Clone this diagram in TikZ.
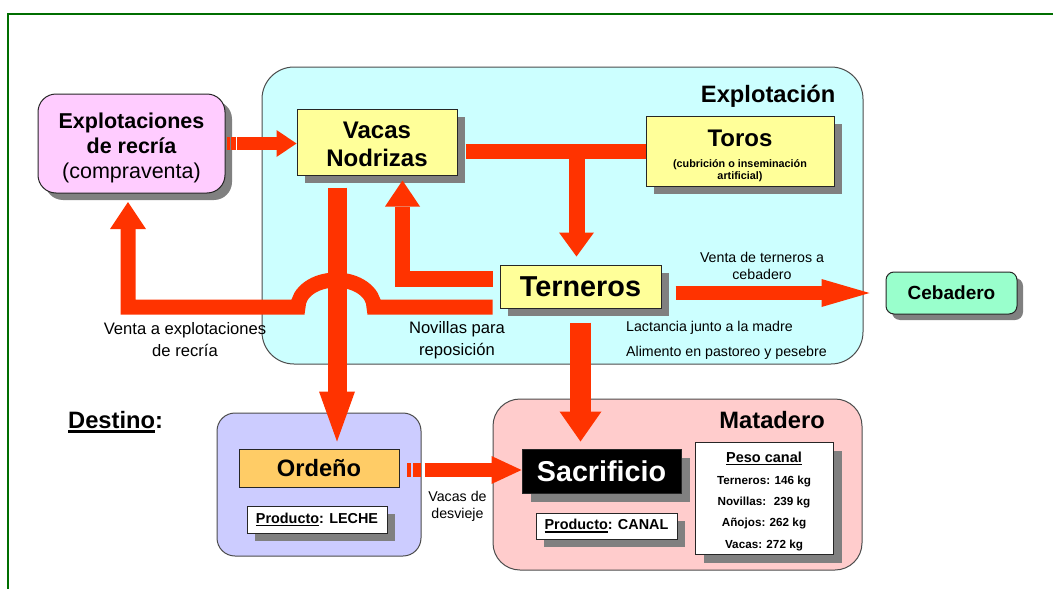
\documentclass[tikz,border=0pt]{standalone}
\usepackage{fontspec}
\setmainfont{Liberation Sans}
\usetikzlibrary{arrows.meta,shadows,calc}

\definecolor{flowred}{HTML}{FF3300}
\definecolor{farmcyan}{HTML}{CCFFFF}
\definecolor{rearpink}{HTML}{FFCCFF}
\definecolor{boxyellow}{HTML}{FFFF99}
\definecolor{feedgreen}{HTML}{99FFCC}
\definecolor{milklilac}{HTML}{CCCCFF}
\definecolor{milkorange}{HTML}{FFCC66}
\definecolor{abattoirpink}{HTML}{FFCCCC}
\definecolor{framegreen}{HTML}{006E00}
\definecolor{shadowgray}{HTML}{808080}

\newsavebox{\undlbox}
\newcommand{\undl}[1]{\sbox{\undlbox}{#1}\rlap{\rule[-0.2em]{\wd\undlbox}{0.11em}}\usebox{\undlbox}}

\begin{document}
\begin{tikzpicture}
		[x=1pt,y=-1pt,
		region/.style ={draw=black!70, line width=1pt, rounded corners=#1, inner sep=0pt},
		block/.style ={rectangle, draw=black!85, line width=1pt, inner sep=0pt, align=center},
		castshadow/.style ={drop shadow={shadow xshift=#1, shadow yshift=-#1, fill=shadowgray, opacity=1}},
		castshadow/.default=8pt,
		flowarrow/.style n args={3}{draw=flowred, line width=#1, -{Triangle[width=#2, length=#3, line width=0pt]}},
		flowtext/.style ={inner sep=0pt, align=center, font=\fontsize{14.2}{17}\selectfont},
		bigtext/.style ={flowtext, font=\fontsize{16.6}{22}\selectfont},
		areatitle/.style ={inner sep=0pt, anchor=east, font=\fontsize{23.7}{28}\selectfont\bfseries},
		]

		\useasboundingbox (0,0) rectangle (1053,589);
		\draw[framegreen, line width=2.5pt] (8,589) -- (8,14) -- (1053,14);

		\draw (562.5,215.5) node[region=32pt, fill=farmcyan, minimum width=601, minimum height=297] (farm) {};
		\draw (319,484.5) node[region=18pt, fill=milklilac, minimum width=204, minimum height=143] (milking) {};
		\draw (677.5,484.5) node[region=27pt, fill=abattoirpink, minimum width=369, minimum height=171] (abattoir) {};

		\draw (835.5,96) node[areatitle] (farmtitle) {Explotación};
		\draw (825,420) node[areatitle] (abattoirtitle) {Matadero};
		\draw (68,422) node[areatitle, anchor=west] (destino) {\undl{Destino}:};

		\draw (131.5,143.5) node[block, castshadow=7pt, fill=rearpink, rounded corners=18pt, minimum width=187, minimum height=99, font=\fontsize{21.5}{25}\selectfont\bfseries] (recria) {\rule{0pt}{24pt}Explotaciones\\de recría\\{\mdseries(compraventa)}};
		\draw (377,142) node[block, castshadow, fill=boxyellow, minimum width=160, minimum height=66, font=\fontsize{24}{28}\selectfont\bfseries] (vacas) {\rule{0pt}{22pt}Vacas\\Nodrizas};
		\draw (740,151) node[block, castshadow, fill=boxyellow, minimum width=188, minimum height=70, font=\fontsize{10.8}{12}\selectfont\bfseries] (toros) {{\fontsize{24}{24}\selectfont\rule{0pt}{26.5pt}Toros}\\[9.3pt](cubrición o inseminación\\artificial)};
		\draw (580.5,286.5) node[block, castshadow, fill=boxyellow, minimum width=161, minimum height=43, font=\fontsize{28.8}{30}\selectfont\bfseries] (terneros) {Terneros};
		\draw (951.5,293) node[block, castshadow=6pt, fill=feedgreen, rounded corners=8pt, minimum width=131, minimum height=42, font=\fontsize{19}{22}\selectfont\bfseries] (cebadero) {Cebadero};
		\draw (319,468) node[block, fill=milkorange, minimum width=160, minimum height=38, font=\fontsize{23.7}{26}\selectfont\bfseries] (ordeno) {Ordeño};
		\draw (317,519.5) node[block, castshadow, fill=white, minimum width=140, minimum height=27, font=\fontsize{14.4}{17}\selectfont\bfseries] (leche) {\undl{Producto}: LECHE};
		\draw (601.5,471) node[block, castshadow=9pt, fill=black, text=white, minimum width=159, minimum height=44, font=\fontsize{28.7}{30}\selectfont\bfseries] (sacrificio) {Sacrificio};
		\draw (606.5,526) node[block, castshadow, fill=white, minimum width=141, minimum height=26, font=\fontsize{14.4}{17}\selectfont\bfseries] (canal) {\undl{Producto}: CANAL};
		\draw (764,498) node[block, castshadow=9pt, fill=white, minimum width=138, minimum height=112, font=\fontsize{11.7}{21.3}\selectfont\bfseries] (peso) {{\fontsize{14.5}{17}\selectfont\rule{0pt}{17pt}\undl{Peso canal}}\\[0.7pt]Terneros: 146 kg\\Novillas:~ 239 kg\\Añojos: 262 kg\\Vacas: 272 kg};

		\fill[flowred] ($(recria.east)+(1,-6.75)$) rectangle ++(3,13.5);
		\fill[flowred] ($(recria.east)+(5,-6.75)$) rectangle ++(5,13.5);
		\draw[flowarrow={13.5pt}{27pt}{20pt}, shorten <=11pt] (recria.east) -- (recria.east -| vacas.west);

		\draw[flowred, line width=15pt, shorten <=8pt] (vacas.east |- toros.west) -- (toros.west);
		\draw[flowarrow={16pt}{35pt}{24pt}, shorten >=8pt] ($(terneros.north |- toros.west)+(-4,0)$) -- ($(terneros.north)+(-4,0)$);

		\draw[flowarrow={15.5pt}{35pt}{26pt}] ($(terneros.west)+(-7,-7.5)$) -| ($(vacas.south)+(25.5,5)$);
		\draw[flowarrow={15pt}{36pt}{27pt}] ($(terneros.west)+(-7,20.5)$) -- ++(-118.5,0) arc[start angle=0, end angle=-180, x radius=38, y radius=27] -| ($(recria.south)+(-3.5,8.5)$);

		\coordinate (vd) at ($(vacas.south)+(-40,12)$);
		\draw[flowarrow={19pt}{36pt}{50pt}, shorten >=7pt] (vd) -- (vd |- ordeno.north);
		\draw[flowarrow={21pt}{42pt}{30pt}, shorten <=14pt, shorten >=7pt] (terneros.south) -- (terneros.south |- sacrificio.north);
		\draw[flowarrow={13.5pt}{28pt}{48pt}, shorten <=14pt, shorten >=16pt] (terneros.east |- cebadero.west) -- (cebadero.west);

		\coordinate (od) at ($(ordeno.east)+(0,2)$);
		\fill[flowred] ($(od)+(7,-7)$) rectangle ++(4,14);
		\fill[flowred] ($(od)+(13,-7)$) rectangle ++(8,14);
		\draw[flowarrow={14pt}{28pt}{30pt}, shorten <=25pt] (od) -- (od -| sacrificio.west);

		\draw (762,265.5) node[flowtext] (saleslabel) {Venta de terneros a\\cebadero};
		\draw (626,328) node[flowtext, anchor=west] (lactlabel) {Lactancia junto a la madre};
		\draw (626,353) node[flowtext, anchor=west] (feedlabel) {Alimento en pastoreo y pesebre};
		\draw (185,340) node[bigtext] (ventalabel) {Venta a explotaciones\\de recría};
		\draw (457,340) node[bigtext] (novillaslabel) {Novillas para\\reposición};
		\draw (457.5,506.5) node[flowtext] (desviejelabel) {Vacas de\\desvieje};
\end{tikzpicture}
\end{document}
